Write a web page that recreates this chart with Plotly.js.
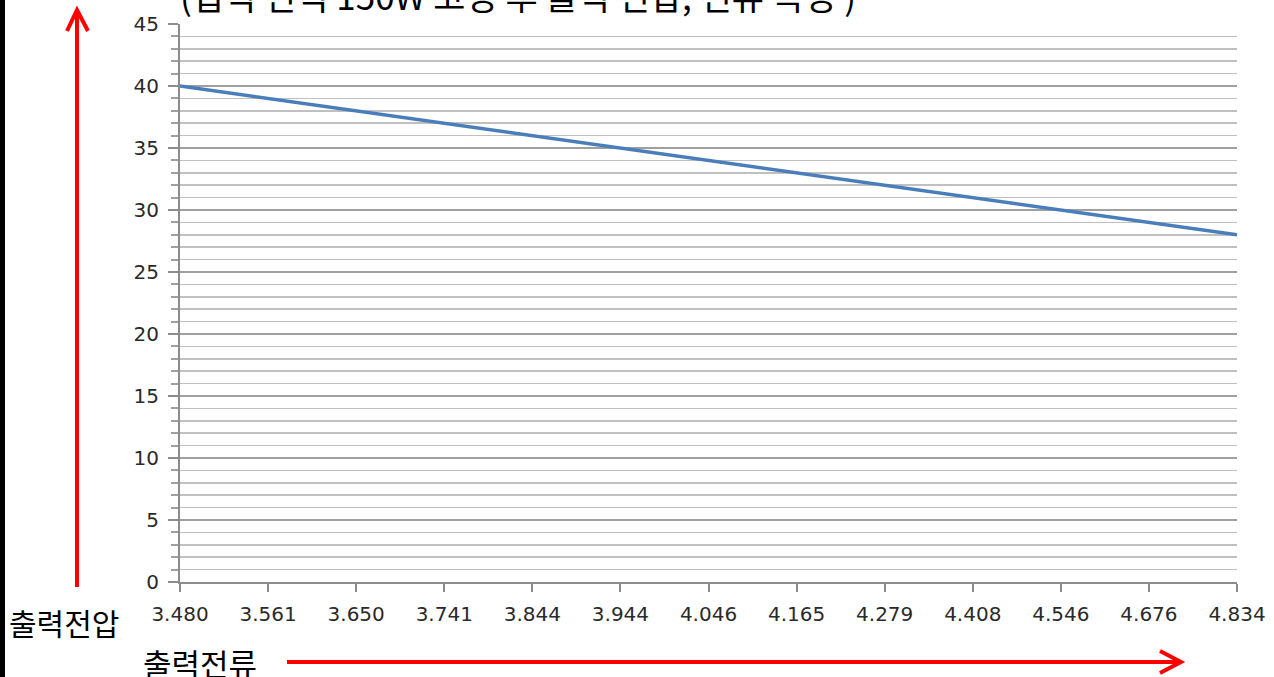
<!DOCTYPE html>
<html><head><meta charset="utf-8">
<script src="https://cdn.plot.ly/plotly-3.0.1.min.js"></script>
<style>body{margin:0;background:#fff}#c{width:1274px;height:677px}</style>
</head><body><div id="c"></div>
<script>
const currents = ['3.480','3.561','3.650','3.741','3.844','3.944','4.046','4.165','4.279','4.408','4.546','4.676','4.834'];
const voltages = [40,39,38,37,36,35,34,33,32,31,30,29,28];
const titleText = '(입력 전력 150W 고정 후 출력 전압, 전류 측정 )';
const yLabel = '출력전압';
const xLabel = '출력전류';

const L=180, R=1237, T=24, B=582;
const W=R-L, H=B-T;
const px = x => (x-L)/W;
const py = y => (B-y)/H;
const red = '#ff0000';
const kr = '"Noto Sans CJK KR", "Noto Sans", sans-serif';
const tickFont = {family:'"DejaVu Sans", Verdana, sans-serif', size:20, color:'#2a2a2a'};

const shapes = [
  {type:'rect', xref:'paper', yref:'paper', x0:px(0), x1:px(5), y0:py(677), y1:py(0), fillcolor:'#000', line:{width:0}},
  {type:'line', xref:'paper', yref:'paper', x0:px(77), x1:px(77), y0:py(587), y1:py(10), line:{color:red, width:4}},
  {type:'path', xref:'paper', yref:'paper', path:`M ${px(67)} ${py(31)} L ${px(77)} ${py(10)} L ${px(88)} ${py(31)}`, line:{color:red, width:4}},
  {type:'line', xref:'paper', yref:'paper', x0:px(287), x1:px(1180), y0:py(662), y1:py(662), line:{color:red, width:4}},
  {type:'path', xref:'paper', yref:'paper', path:`M ${px(1160)} ${py(651)} L ${px(1181)} ${py(662)} L ${px(1160)} ${py(673)}`, line:{color:red, width:4}}
];

const annotations = [
  {xref:'paper', yref:'paper', x:px(178), y:py(-5), xanchor:'left', yanchor:'middle', text:titleText, showarrow:false, font:{family:kr, size:35, color:'#000'}},
  {xref:'paper', yref:'paper', x:px(64), y:py(622), xanchor:'center', yanchor:'middle', text:yLabel, showarrow:false, font:{family:kr, size:30, color:'#000'}},
  {xref:'paper', yref:'paper', x:px(200), y:py(662), xanchor:'center', yanchor:'middle', text:xLabel, showarrow:false, font:{family:kr, size:31, color:'#000'}}
];

Plotly.newPlot('c', [{
  x: currents, y: voltages, type:'scatter', mode:'lines',
  line:{color:'#4a7ebb', width:3.5}, hoverinfo:'skip'
}], {
  width:1274, height:677,
  margin:{l:L, r:1274-R, t:T, b:677-B},
  paper_bgcolor:'#fff', plot_bgcolor:'#fff',
  showlegend:false,
  xaxis:{
    type:'category', range:[0, currents.length-1],
    showgrid:false, zeroline:false,
    showline:true, linecolor:'#8c8c8c', linewidth:2,
    ticks:'outside', ticklen:8, tickwidth:2, tickcolor:'#8c8c8c',
    tickfont:tickFont, ticklabelstandoff:5,
    fixedrange:true
  },
  yaxis:{
    range:[0,45], dtick:5, tick0:0,
    showgrid:true, gridcolor:'#a0a0a0', gridwidth:2,
    zeroline:false,
    showline:true, linecolor:'#8c8c8c', linewidth:2,
    ticks:'outside', ticklen:10, tickwidth:2, tickcolor:'#8c8c8c',
    tickfont:tickFont, ticklabelstandoff:5,
    minor:{dtick:1, tick0:0, showgrid:true, gridcolor:'#c0c0c0', gridwidth:1.6, ticks:'outside', ticklen:7, tickwidth:2, tickcolor:'#a0a0a0'},
    fixedrange:true
  },
  shapes: shapes,
  annotations: annotations
}, {displayModeBar:false, staticPlot:true});
</script>
</body></html>
